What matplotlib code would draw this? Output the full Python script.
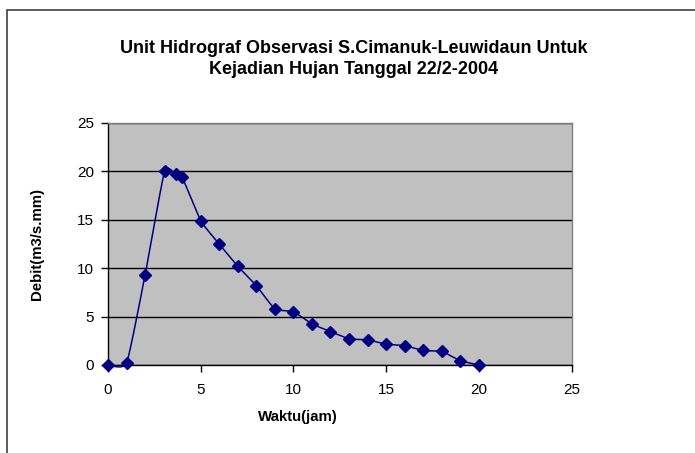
import numpy as np
import matplotlib.pyplot as plt
from matplotlib.patches import Rectangle

# hours and discharge
waktu = [0, 1, 2, 3.05, 3.65, 4.0, 5, 6, 7, 8, 9, 10, 11, 12, 13, 14, 15, 16, 17, 18, 19, 20]
debit = [0, 0.2, 9.3, 20.0, 19.7, 19.4, 14.9, 12.5, 10.2, 8.2, 5.8, 5.5,
         4.25, 3.45, 2.7, 2.6, 2.15, 2.0, 1.5, 1.4, 0.45, 0.0]
x_ticks = [0, 5, 10, 15, 20, 25]
y_ticks = [0, 5, 10, 15, 20, 25]

judul = "Unit Hidrograf Observasi S.Cimanuk-Leuwidaun Untuk\nKejadian Hujan Tanggal 22/2-2004"


def smooth(x, y, steps=20, k=0.5):
  """Cardinal spline through the points, like a smoothed Excel line"""
  x = np.asarray(x, float)
  y = np.asarray(y, float)
  px = np.concatenate([[x[0]], x, [x[-1]]])
  py = np.concatenate([[y[0]], y, [y[-1]]])
  xs, ys = [], []
  t = np.linspace(0, 1, steps)
  h00 = 2 * t ** 3 - 3 * t ** 2 + 1
  h10 = t ** 3 - 2 * t ** 2 + t
  h01 = -2 * t ** 3 + 3 * t ** 2
  h11 = t ** 3 - t ** 2
  for i in range(1, len(px) - 2):
    for p, out in ((px, xs), (py, ys)):
      m1 = k * 0.5 * (p[i + 1] - p[i - 1])
      m2 = k * 0.5 * (p[i + 2] - p[i])
      out.extend(h00 * p[i] + h10 * m1 + h01 * p[i + 1] + h11 * m2)
  return xs, ys


plt.rcParams['font.family'] = ['Liberation Sans', 'DejaVu Sans']

fig = plt.figure(figsize=(6.95, 4.53), dpi=100)
W, H = 695, 453
fig.patches.append(Rectangle((7 / W, -0.1), 1.2, 1.1 - 10 / H,
                             transform=fig.transFigure, fill=False,
                             edgecolor='#404040', linewidth=1.2))

ax = fig.add_axes([108 / W, 1 - 365 / H, 463.5 / W, 242 / H])
ax.set_facecolor('#C0C0C0')

lx, ly = smooth(waktu, debit)
ax.plot(lx, ly, color='#000080', linewidth=1.1, zorder=3, clip_on=False)
ax.plot(waktu, debit, linestyle='none', marker='D', markersize=6.3,
        color='#000080', zorder=4, clip_on=False)

ax.set_xlim(0, 25)
ax.set_ylim(0, 25)
ax.set_xticks(x_ticks)
ax.set_yticks(y_ticks)
ax.yaxis.grid(True, color='black', linewidth=1.0)
ax.set_axisbelow(True)
ax.tick_params(direction='out', length=5, width=1, labelsize=11)
ax.tick_params(axis='x', pad=8)
ax.tick_params(axis='y', pad=5)

for s in ('left', 'bottom'):
  ax.spines[s].set_color('black')
  ax.spines[s].set_linewidth(1.0)
for s in ('top', 'right'):
  ax.spines[s].set_color('#808080')
  ax.spines[s].set_linewidth(1.0)

fig.text(354 / W, 1 - 59 / H, judul, ha='center', va='center',
         fontsize=13, fontweight='bold', linespacing=1.35)
fig.text(298 / W, 1 - 417 / H, "Waktu(jam)", ha='center', va='center',
         fontsize=10.8, fontweight='bold')
fig.text(37 / W, 1 - 244 / H, "Debit(m3/s.mm)", ha='center', va='center',
         fontsize=10.8, fontweight='bold', rotation=90)

fig.savefig("out.png", dpi=100)
